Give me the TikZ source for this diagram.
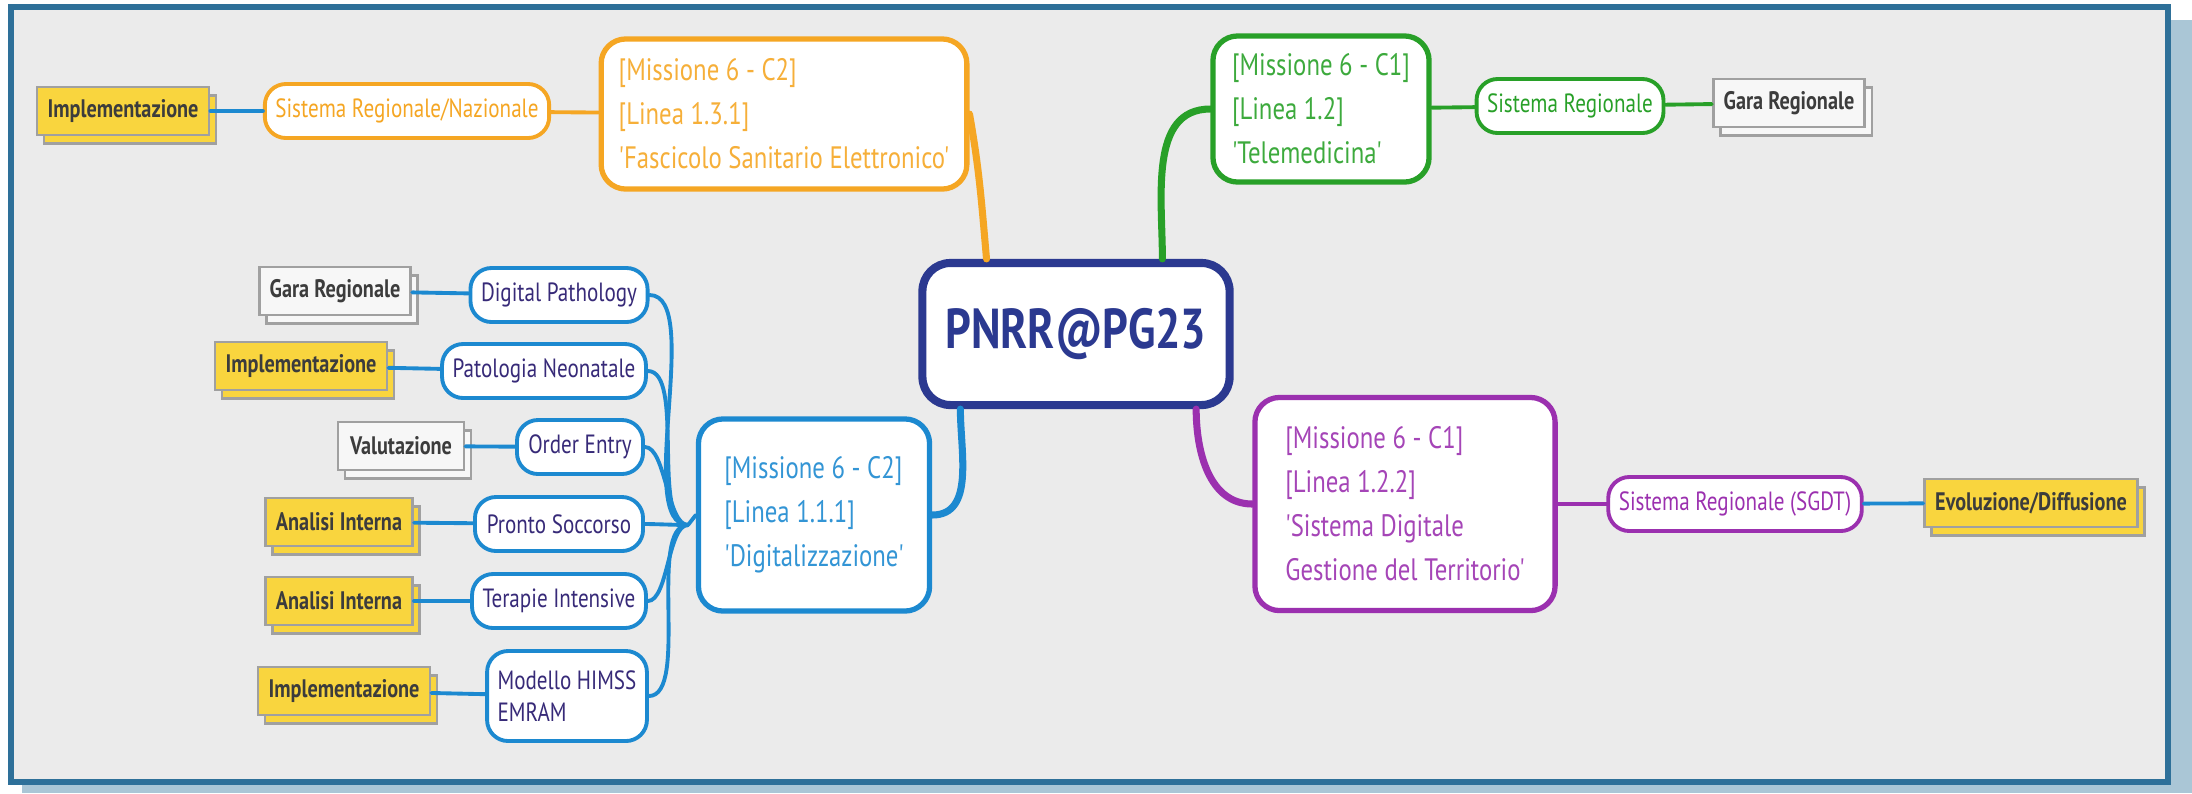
\documentclass[tikz,border=0pt]{standalone}
\usepackage{fontspec}
\newfontfamily\mapfont{PT Sans}[FakeStretch=0.8]
\definecolor{framebg}{RGB}{235, 235, 235}
\definecolor{frameline}{RGB}{46, 112, 153}
\definecolor{frameshade}{RGB}{170, 198, 214}
\definecolor{rootnavy}{RGB}{43, 57, 144}
\definecolor{fseorange}{RGB}{245, 166, 35}
\definecolor{telegreen}{RGB}{40, 160, 40}
\definecolor{sgdtpurple}{RGB}{155, 48, 175}
\definecolor{digiblue}{RGB}{28, 137, 208}
\definecolor{leafink}{RGB}{55, 42, 120}
\definecolor{tagyellow}{RGB}{249, 213, 62}
\definecolor{taggray}{RGB}{160, 160, 160}
\definecolor{tagink}{RGB}{60, 60, 60}
\usetikzlibrary{shadows}

\tikzset{
  rootbox/.style={draw=rootnavy, line width=2.3pt, rounded corners=8pt, fill=white, text=rootnavy,
    font=\mapfont\bfseries\fontsize{16}{20}\selectfont, minimum width=3.07cm, minimum height=1.42cm},
  bigbox/.style={draw=#1, line width=1.5pt, rounded corners=7pt, fill=white, text=#1!90!white, align=left,
    font=\mapfont\fontsize{8.8}{12.5}\selectfont, inner sep=5pt},
  subbox/.style={draw=#1, line width=1.1pt, rounded corners=6pt, fill=white, text=#1,
    font=\mapfont\fontsize{7.5}{9}\selectfont, minimum height=0.54cm, inner sep=3pt},
  leafbox/.style={subbox=digiblue, text=leafink, align=left},
  yellowtag/.style={draw=taggray, line width=0.8pt, fill=tagyellow, text=tagink, minimum height=0.48cm,
    font=\mapfont\bfseries\fontsize{7.2}{9}\selectfont, inner sep=3pt,
    copy shadow={shadow xshift=2pt, shadow yshift=-2.5pt, fill=tagyellow, draw=taggray}},
  graytag/.style={yellowtag, fill=white!97!black,
    copy shadow={shadow xshift=2pt, shadow yshift=-2.5pt, fill=white!97!black, draw=taggray}},
  branch/.style={draw=#1, line width=2pt, line cap=round},
  twig/.style={draw=#1, line width=1.1pt, line cap=round}
}

\begin{document}
\begin{tikzpicture}[x=0.01cm, y=0.01cm]
  \useasboundingbox (0,0) rectangle (2192,-793);

  % Frame
  \fill[frameshade] (22,-20) rectangle (2192,-793);
  \draw[frameline, line width=1.5pt, fill=framebg] (11,-7) rectangle (2168,-782);

  % Root
  \node[rootbox] (root) at (1076,-334) {PNRR@PG23};

  % Fascicolo Sanitario Elettronico
  \node[bigbox=fseorange, minimum width=3.61cm, minimum height=1.5cm] (fse) at (784,-114) {
    [Missione 6 - C2]\\{}[Linea 1.3.1]\\'Fascicolo Sanitario Elettronico'};
  \node[subbox=fseorange, minimum width=2.82cm] (sisnaz) at (407,-111) {Sistema Regionale/Nazionale};
  \node[yellowtag, minimum width=1.68cm] (implfse) at (123,-111) {Implementazione};

  % Telemedicina
  \node[bigbox=telegreen, minimum width=2.16cm, minimum height=1.46cm] (tele) at (1321,-109) {
    [Missione 6 - C1]\\{}[Linea 1.2]\\'Telemedicina'};
  \node[subbox=telegreen, minimum width=1.82cm] (sisreg) at (1570,-106) {Sistema Regionale};
  \node[graytag, minimum width=1.45cm] (garatele) at (1789,-103) {Gara Regionale};

  % Sistema Digitale Gestione del Territorio
  \node[bigbox=sgdtpurple, minimum width=3cm, minimum height=2.13cm] (sgdt) at (1405,-504) {
    [Missione 6 - C1]\\{}[Linea 1.2.2]\\'Sistema Digitale\\Gestione del Territorio'};
  \node[subbox=sgdtpurple, minimum width=2.49cm] (sisgdt) at (1735,-504) {Sistema Regionale (SGDT)};
  \node[yellowtag, minimum width=2.1cm] (evol) at (2031,-503) {Evoluzione/Diffusione};

  % Digitalizzazione
  \node[bigbox=digiblue, minimum width=2.31cm, minimum height=1.92cm] (digit) at (814,-515) {
    [Missione 6 - C2]\\{}[Linea 1.1.1]\\'Digitalizzazione'};

  % Digitalizzazione leaves
  \node[leafbox, minimum width=1.68cm] (dp) at (559,-295) {Digital Pathology};
  \node[leafbox, minimum width=1.98cm] (pn) at (544,-371) {Patologia Neonatale};
  \node[leafbox, minimum width=1.26cm] (oe) at (580,-447) {Order Entry};
  \node[leafbox, minimum width=1.68cm] (ps) at (559,-524) {Pronto Soccorso};
  \node[leafbox, minimum width=1.68cm] (ti) at (559,-601) {Terapie Intensive};
  \node[leafbox, minimum width=1.51cm, minimum height=0.9cm] (himss) at (567,-696) {Modello HIMSS\\EMRAM};

  \node[graytag, minimum width=1.39cm] (garadp) at (335,-291) {Gara Regionale};
  \node[yellowtag, minimum width=1.65cm] (implpn) at (301,-366) {Implementazione};
  \node[graytag, minimum width=1.26cm] (valoe) at (401,-446) {Valutazione};
  \node[yellowtag, minimum width=1.43cm] (anps) at (339,-522) {Analisi Interna};
  \node[yellowtag, minimum width=1.43cm] (anti) at (339,-601) {Analisi Interna};
  \node[yellowtag, minimum width=1.67cm] (implhim) at (344,-691) {Implementazione};

  \coordinate (hub) at (688,-525);

  % Main branches
  \draw[branch=fseorange] (root.140) to[out=95,in=-80] (fse.east);
  \draw[branch=telegreen] (root.41) to[out=90,in=180] (tele.west);
  \draw[branch=digiblue] (root.213) to[out=-90,in=0] (digit.east);
  \draw[branch=sgdtpurple] (root.328) to[out=-90,in=180] (sgdt.west);

  % Side links
  \draw[twig=fseorange] (fse) -- (sisnaz);
  \draw[twig=digiblue] (sisnaz) -- (implfse);
  \draw[twig=telegreen] (tele) -- (sisreg);
  \draw[twig=telegreen] (sisreg) -- (garatele);
  \draw[twig=sgdtpurple] (sgdt) -- (sisgdt);
  \draw[twig=digiblue] (sisgdt) -- (evol);

  % Leaves to Digitalizzazione
  \draw[twig=digiblue] (hub) -- (digit.west);
  \draw[twig=digiblue] (dp.east) to[out=0,in=180,looseness=0.6] (hub);
  \draw[twig=digiblue] (pn.east) to[out=0,in=180,looseness=0.6] (hub);
  \draw[twig=digiblue] (oe.east) to[out=0,in=180,looseness=0.6] (hub);
  \draw[twig=digiblue] (ps.east) to[out=0,in=180,looseness=0.6] (hub);
  \draw[twig=digiblue] (ti.east) to[out=0,in=180,looseness=0.6] (hub);
  \draw[twig=digiblue] (himss.east) to[out=0,in=180,looseness=0.6] (hub);

  \draw[twig=digiblue] (garadp) -- (dp);
  \draw[twig=digiblue] (implpn) -- (pn);
  \draw[twig=digiblue] (valoe) -- (oe);
  \draw[twig=digiblue] (anps) -- (ps);
  \draw[twig=digiblue] (anti) -- (ti);
  \draw[twig=digiblue] (implhim) -- (himss);
\end{tikzpicture}
\end{document}
